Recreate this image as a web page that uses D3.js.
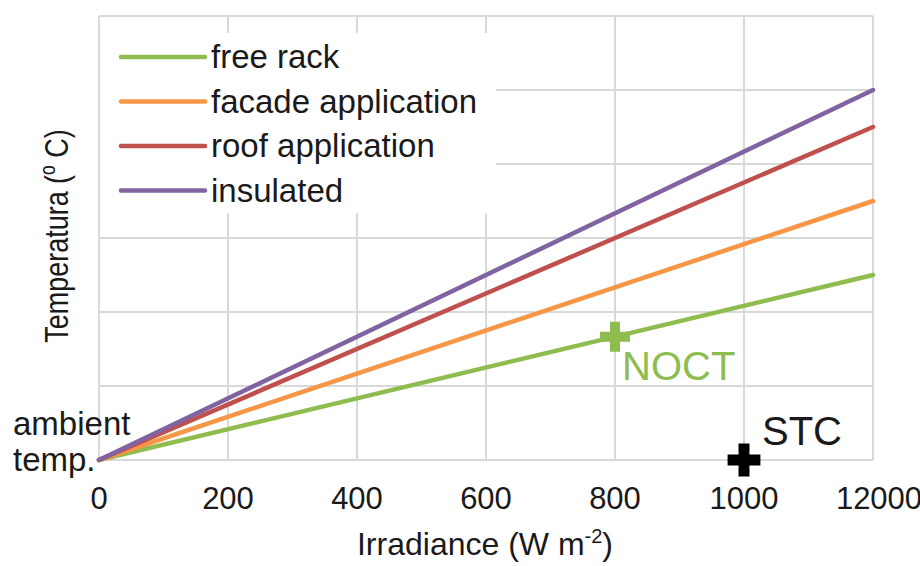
<!DOCTYPE html>
<html>
<head>
<meta charset="utf-8">
<script src="https://cdn.jsdelivr.net/npm/d3@7"></script>
<style>
  body { margin: 0; background: #fff; }
  text { font-family: "Liberation Sans", Arial, sans-serif; fill: #1a1a1a; }
</style>
</head>
<body>
<div id="chart"></div>
<script>
// data (temperature above ambient, in grid units)
var irradiance = [0, 1200];
var seriesNames = ["free rack", "facade application", "roof application", "insulated"];
var seriesColors = ["#8fbc4f", "#f79646", "#c0504d", "#8064a2"];
var freeRack = [0, 2.5];
var facade = [0, 3.5];
var roof = [0, 4.5];
var insulated = [0, 5];
var xTicks = [0, 200, 400, 600, 800, 1000, 1200];
var xTickLabels = ["0", "200", "400", "600", "800", "1000", "12000"];
var yTicks = [0, 1, 2, 3, 4, 5, 6];
var noct = { x: 800, y: 2.5 * 800 / 1200 };
var stc = { x: 1000, y: 0 };

var width = 920, height = 566;
var margin = { left: 99, right: 47, top: 16, bottom: 106 };

var svg = d3.select("#chart")
    .append("svg")
    .attr("width", width)
    .attr("height", height)

var x = d3.scaleLinear().domain([0, 1200]).range([margin.left, width - margin.right]);
var y = d3.scaleLinear().domain([0, 6]).range([height - margin.bottom, margin.top]);

// grid
svg.append("g")
    .selectAll("line.v")
    .data(xTicks)
    .enter()
    .append("line")
    .attr("x1", function(d) { return x(d); })
    .attr("x2", function(d) { return x(d); })
    .attr("y1", y(0))
    .attr("y2", y(6))
    .style("stroke", "#d9d9d9")
    .style("stroke-width", 2)

svg.append("g")
    .selectAll("line.h")
    .data(yTicks)
    .enter()
    .append("line")
    .attr("x1", x(0))
    .attr("x2", x(1200))
    .attr("y1", function(d) { return y(d); })
    .attr("y2", function(d) { return y(d); })
    .style("stroke", "#d9d9d9")
    .style("stroke-width", 2)

// tick labels (the last one runs off the edge, as in the original)
svg.append("g")
    .selectAll("text")
    .data(xTicks)
    .enter()
    .append("text")
    .attr("x", function(d, i) { return i == xTicks.length - 1 ? x(d) + 6 : x(d); })
    .attr("y", 509)
    .attr("text-anchor", "middle")
    .style("font-size", "31px")
    .text(function(d, i) { return xTickLabels[i]; })

// legend background hides the grid behind it
svg.append("rect")
    .attr("x", x(0) + 1)
    .attr("y", 33)
    .attr("width", 396)
    .attr("height", 180)
    .style("fill", "#fff")

var allSeries = [freeRack, facade, roof, insulated];
var line = d3.line()
    .x(function(d, i) { return x(irradiance[i]); })
    .y(function(d) { return y(d); })

svg.append("g")
    .selectAll("path")
    .data(allSeries)
    .enter()
    .append("path")
    .attr("d", line)
    .style("fill", "none")
    .style("stroke", function(d, i) { return seriesColors[i]; })
    .style("stroke-width", 4.5)
    .style("stroke-linecap", "round")

// legend
var legend = svg.append("g")
    .selectAll("g")
    .data(seriesNames)
    .enter()
    .append("g")
    .attr("transform", function(d, i) { return "translate(0," + (57 + i * 44.5) + ")"; })

legend.append("line")
    .attr("x1", 121).attr("x2", 205)
    .attr("y1", 0).attr("y2", 0)
    .style("stroke", function(d, i) { return seriesColors[i]; })
    .style("stroke-width", 4.5)
    .style("stroke-linecap", "round")

legend.append("text")
    .attr("x", 211)
    .attr("y", 11)
    .style("font-size", "33px")
    .text(function(d) { return d; })

// markers
var plus = d3.symbol().type(d3.symbolCross);
svg.append("path")
    .attr("d", plus.size(500)())
    .attr("transform", "translate(" + x(noct.x) + "," + y(noct.y) + ")")
    .style("fill", seriesColors[0])

svg.append("path")
    .attr("d", plus.size(600)())
    .attr("transform", "translate(" + x(stc.x) + "," + y(stc.y) + ")")
    .style("fill", "#000")

svg.append("text")
    .attr("x", x(noct.x) + 7)
    .attr("y", 380)
    .style("font-size", "40px")
    .style("fill", seriesColors[0])
    .text("NOCT")

svg.append("text")
    .attr("x", x(stc.x) + 18)
    .attr("y", 445)
    .style("font-size", "40px")
    .text("STC")

// ambient label
svg.append("text")
    .attr("x", 13).attr("y", 435)
    .style("font-size", "33px")
    .text("ambient")
svg.append("text")
    .attr("x", 13).attr("y", 471)
    .style("font-size", "33px")
    .text("temp.")

// axis titles
var xt = svg.append("text")
    .attr("x", 485)
    .attr("y", 555)
    .attr("text-anchor", "middle")
    .style("font-size", "32px")
xt.append("tspan").text("Irradiance (W m")
xt.append("tspan").attr("dy", -12).style("font-size", "20px").text("-2")
xt.append("tspan").attr("dy", 12).text(")")

var yt = svg.append("text")
    .attr("transform", "translate(68,236) rotate(-90) scale(0.87,1.07)")
    .attr("text-anchor", "middle")
    .style("font-size", "31px")
yt.append("tspan").text("Temperatura (")
yt.append("tspan").attr("dy", -12).style("font-size", "20px").text("o")
yt.append("tspan").attr("dy", 12).text(" C)")
</script>
</body>
</html>
